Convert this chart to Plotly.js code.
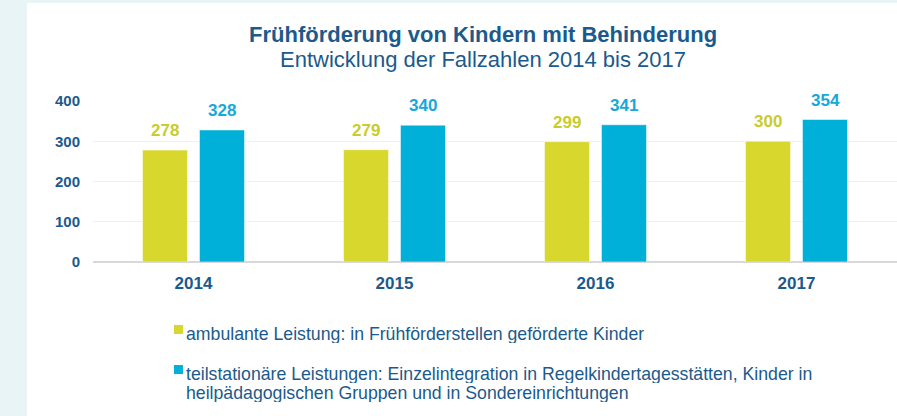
<!DOCTYPE html>
<html>
<head>
<meta charset="utf-8">
<script src="https://cdn.plot.ly/plotly-3.0.1.min.js"></script>
<style>
  html, body { margin:0; padding:0; background:#e8f4f5; width:897px; height:416px; overflow:hidden; }
  #chart { position:absolute; left:27px; top:3px; width:870px; height:413px; background:#ffffff; }
</style>
</head>
<body>
<div id="chart"></div>
<script>
const years = ['2014', '2015', '2016', '2017'];
const ambulant = [278, 279, 299, 300];
const teilstationaer = [328, 340, 341, 354];
const legendLines1 = ['ambulante Leistung: in Frühförderstellen geförderte Kinder'];
const legendLines2 = [
  'teilstationäre Leistungen: Einzelintegration in Regelkindertagesstätten, Kinder in',
  'heilpädagogischen Gruppen und in Sondereinrichtungen'
];
const titleText = 'Frühförderung von Kindern mit Behinderung';
const subtitleText = 'Entwicklung der Fallzahlen 2014 bis 2017';
const yTicks = [0, 100, 200, 300, 400];

const FONT = 'Liberation Sans, Arial, Helvetica, sans-serif';
const DARK = '#1b5a8c';
const YELLOW = '#d7d72d';
const BLUE = '#00b0d8';

const traces = [
  { type:'bar', x: years, y: ambulant, name: legendLines1.join(' '), showlegend:false,
    marker:{ color: YELLOW, line:{ color:'rgba(255,255,255,0.5)', width:1 } } },
  { type:'bar', x: years, y: teilstationaer, name: legendLines2.join(' '), showlegend:false,
    marker:{ color: BLUE, line:{ color:'rgba(255,255,255,0.5)', width:1 } } }
];

// on a category axis, annotation x is the category index
const annotations = [];
years.forEach((yr, i) => {
  annotations.push({ x: i, y: ambulant[i], xref:'x', yref:'y', text: '<b>' + ambulant[i] + '</b>',
    showarrow:false, xshift:-28.5, yshift:8, yanchor:'bottom',
    font:{ family: FONT, size:17, color:'#c9cc2b' } });
  annotations.push({ x: i, y: teilstationaer[i], xref:'x', yref:'y', text: '<b>' + teilstationaer[i] + '</b>',
    showarrow:false, xshift:28.5, yshift:8, yanchor:'bottom',
    font:{ family: FONT, size:17, color:'#17a8d8' } });
});
annotations.push({ xref:'paper', yref:'paper', x:0.485, y:1.41, xanchor:'center', yanchor:'middle',
  text:'<b>' + titleText + '</b>', showarrow:false, font:{ family: FONT, size:22, color: DARK } });
annotations.push({ xref:'paper', yref:'paper', x:0.485, y:1.255, xanchor:'center', yanchor:'middle',
  text: subtitleText, showarrow:false, font:{ family: FONT, size:22, color: DARK } });

// legend (custom, below the plot)
const legFont = { family: FONT, size:17.7, color: DARK };
const legX = 0.1135;
annotations.push({ xref:'paper', yref:'paper', x:legX, y:-0.447, xanchor:'left', yanchor:'middle',
  height:18, text: legendLines1[0], showarrow:false, font: legFont });
annotations.push({ xref:'paper', yref:'paper', x:legX, y:-0.696, xanchor:'left', yanchor:'middle',
  height:18, text: legendLines2[0], showarrow:false, font: legFont });
annotations.push({ xref:'paper', yref:'paper', x:legX, y:-0.815, xanchor:'left', yanchor:'middle',
  height:18, text: legendLines2[1], showarrow:false, font: legFont });

const shapes = [
  { type:'rect', xref:'paper', yref:'paper', x0:0.1007, x1:0.1119, y0:-0.447, y1:-0.391,
    fillcolor: YELLOW, line:{ width:0 } },
  { type:'rect', xref:'paper', yref:'paper', x0:0.1007, x1:0.1119, y0:-0.696, y1:-0.640,
    fillcolor: BLUE, line:{ width:0 } }
];

const layout = {
  width: 870, height: 413,
  margin: { l:66, r:0, t:98, b:154, pad:0 },
  paper_bgcolor:'#ffffff', plot_bgcolor:'#ffffff',
  barmode:'group', bargap:0.433, bargroupgap:0.21,
  showlegend:false,
  xaxis:{ type:'category', showgrid:false, zeroline:false, showline:false, ticks:'',
    tickfont:{ family: FONT, size:17, color: DARK, weight:'bold' }, ticklabelstandoff:9 },
  yaxis:{ range:[0, 400], tickvals: yTicks, showgrid:true, gridcolor:'#f0f0f0', gridwidth:1,
    zeroline:true, zerolinecolor:'#d8d8d8', zerolinewidth:2, showline:false, ticks:'',
    tickfont:{ family: FONT, size:15, color: DARK, weight:'bold' }, ticklabelstandoff:12 },
  annotations: annotations,
  shapes: shapes
};

Plotly.newPlot('chart', traces, layout, { displayModeBar:false, staticPlot:true });
</script>
</body>
</html>
